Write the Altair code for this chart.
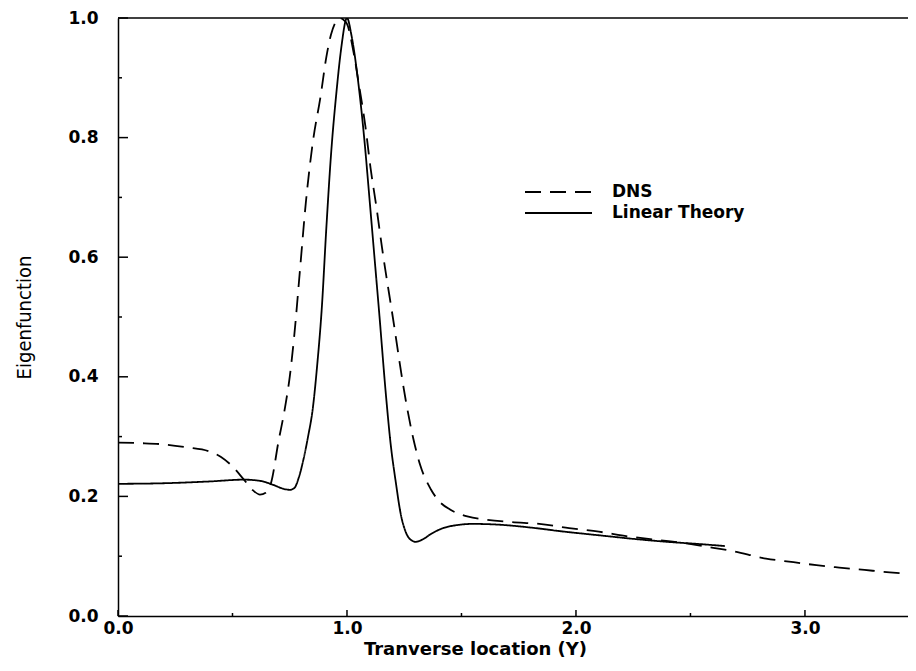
import altair as alt
import pandas as pd

# ---- data ----
lin_x = [0.00, 0.20, 0.40, 0.55, 0.62, 0.68, 0.72, 0.75, 0.77, 0.79, 0.81, 0.83, 0.85,
         0.87, 0.89, 0.91, 0.93, 0.955, 0.975, 1.00, 1.02, 1.05, 1.075, 1.10, 1.12,
         1.14, 1.17, 1.19, 1.213, 1.235, 1.256, 1.28, 1.30, 1.33, 1.37, 1.42, 1.48,
         1.55, 1.65, 1.80, 1.95, 2.10, 2.25, 2.40, 2.55, 2.65]
lin_y = [0.221, 0.222, 0.225, 0.228, 0.226, 0.219, 0.213, 0.211, 0.214, 0.232, 0.262, 0.300, 0.345,
         0.420, 0.515, 0.650, 0.770, 0.880, 0.950, 1.000, 0.970, 0.890, 0.800, 0.690, 0.600,
         0.510, 0.370, 0.290, 0.224, 0.170, 0.141, 0.127, 0.124, 0.128, 0.138, 0.147, 0.152,
         0.154, 0.153, 0.148, 0.141, 0.135, 0.129, 0.124, 0.120, 0.117]

dns_x = [0.00, 0.10, 0.20, 0.30, 0.40, 0.45, 0.50, 0.55, 0.59, 0.62, 0.645, 0.67, 0.70,
         0.73, 0.75, 0.77, 0.795, 0.82, 0.85, 0.885, 0.91, 0.93, 0.95, 0.97, 0.99,
         1.00, 1.03, 1.052, 1.08, 1.103, 1.13, 1.153, 1.20, 1.256, 1.29, 1.32, 1.366,
         1.40, 1.45, 1.53, 1.59, 1.72, 1.84, 1.97, 2.10, 2.23, 2.36, 2.49, 2.60,
         2.68, 2.83, 2.95, 3.05, 3.15, 3.26, 3.37, 3.47]
dns_y = [0.290, 0.289, 0.287, 0.282, 0.275, 0.266, 0.250, 0.228, 0.210, 0.203, 0.206, 0.225, 0.290,
         0.350, 0.400, 0.470, 0.580, 0.690, 0.790, 0.870, 0.935, 0.972, 0.993, 1.000, 0.995,
         0.990, 0.940, 0.889, 0.820, 0.749, 0.680, 0.616, 0.500, 0.362, 0.296, 0.252, 0.212,
         0.193, 0.178, 0.166, 0.162, 0.157, 0.154, 0.147, 0.141, 0.133, 0.127, 0.121, 0.114,
         0.109, 0.096, 0.090, 0.085, 0.081, 0.077, 0.073, 0.070]

series_names = ["DNS", "Linear Theory"]
series_dash = [[16, 9], [1, 0]]
x_major = [0.0, 1.0, 2.0, 3.0]
x_minor = [0.5, 1.5, 2.5]
y_major = [0.0, 0.2, 0.4, 0.6, 0.8, 1.0]
y_minor = [0.1, 0.3, 0.5, 0.7, 0.9]

W, H = 790, 598

df = pd.concat([
    pd.DataFrame({"x": dns_x, "y": dns_y, "series": series_names[0]}),
    pd.DataFrame({"x": lin_x, "y": lin_y, "series": series_names[1]}),
])

xscale = alt.Scale(domain=[0, 3.45], nice=False, zero=False)
yscale = alt.Scale(domain=[0, 1.0], nice=False)

LABEL_FONT = "DejaVu Sans"

xaxis = alt.Axis(values=x_major, format=".1f", title="Tranverse location (Y)",
                 orient="bottom", ticks=False, grid=False, labelFlush=False,
                 domainColor="black", domainWidth=1.5,
                 labelPadding=4, titlePadding=4, titleX=357,
                 labelFont=LABEL_FONT, labelFontWeight="bold", labelColor="black",
                 labelFontSize=17, titleFont=LABEL_FONT, titleFontWeight="bold",
                 titleColor="black", titleFontSize=18)
yaxis = alt.Axis(values=y_major, format=".1f", title="Eigenfunction",
                 orient="left", ticks=False, grid=False, labelFlush=False,
                 domainColor="black", domainWidth=1.5,
                 labelPadding=20, titlePadding=33,
                 labelFont=LABEL_FONT, labelFontWeight="bold", labelColor="black",
                 labelFontSize=17, titleFontSize=20, titleColor="black",
                 titleFont="Liberation Sans Narrow, DejaVu Sans Condensed",
                 titleFontWeight="normal")

lines = alt.Chart(df).mark_line(color="black", strokeWidth=1.8, interpolate="monotone", clip=True).encode(
    x=alt.X("x:Q", scale=xscale, axis=xaxis),
    y=alt.Y("y:Q", scale=yscale, axis=yaxis),
    strokeDash=alt.StrokeDash("series:N",
                              scale=alt.Scale(domain=series_names, range=series_dash),
                              legend=None),
)

def rule_layer(vals, orient, length):
    if orient == "y":
        d = pd.DataFrame({"y": vals})
        return alt.Chart(d).mark_rule(color="black", strokeWidth=1.5).encode(
            y=alt.Y("y:Q", scale=yscale, axis=yaxis),
            x=alt.value(0), x2=alt.value(length))
    d = pd.DataFrame({"x": vals})
    return alt.Chart(d).mark_rule(color="black", strokeWidth=1.5).encode(
        x=alt.X("x:Q", scale=xscale, axis=xaxis),
        y=alt.value(H), y2=alt.value(H - length))

ticks = [
    rule_layer(y_major, "y", 10),
    rule_layer(y_minor, "y", 4),
    rule_layer(x_major, "x", 6),
    rule_layer(x_minor, "x", 3),
]

top_border = alt.Chart(pd.DataFrame({"y": [1.0]})).mark_rule(color="black", strokeWidth=1.5).encode(
    y=alt.Y("y:Q", scale=yscale, axis=yaxis), x=alt.value(0), x2=alt.value(W))

# legend, drawn as a small key box inside the plot
LEG_X0, LEG_X1, LEG_TX, LEG_Y0, LEG_DY = 407, 474, 494, 174, 21
legend_layers = []
for i, (name, dash) in enumerate(zip(series_names, series_dash)):
    ld = pd.DataFrame({"label": [name]})
    legend_layers.append(
        alt.Chart(ld).mark_rule(color="black", strokeWidth=1.8, strokeDash=dash).encode(
            x=alt.value(LEG_X0), x2=alt.value(LEG_X1), y=alt.value(LEG_Y0 + i * LEG_DY)))
    legend_layers.append(
        alt.Chart(ld).mark_text(align="left", baseline="middle", font=LABEL_FONT,
                                fontSize=17, fontWeight="bold", color="black").encode(
            x=alt.value(LEG_TX), y=alt.value(LEG_Y0 + i * LEG_DY), text="label:N"))

chart = alt.layer(lines, top_border, *ticks, *legend_layers).properties(
    width=W, height=H,
    background="white",
    autosize=alt.AutoSizeParams(type="none"),
    padding={"left": 110, "top": 10, "right": 0, "bottom": 47},
).configure_view(stroke=None)

chart.save("out.html", embed_options={"renderer": "svg", "actions": False})
